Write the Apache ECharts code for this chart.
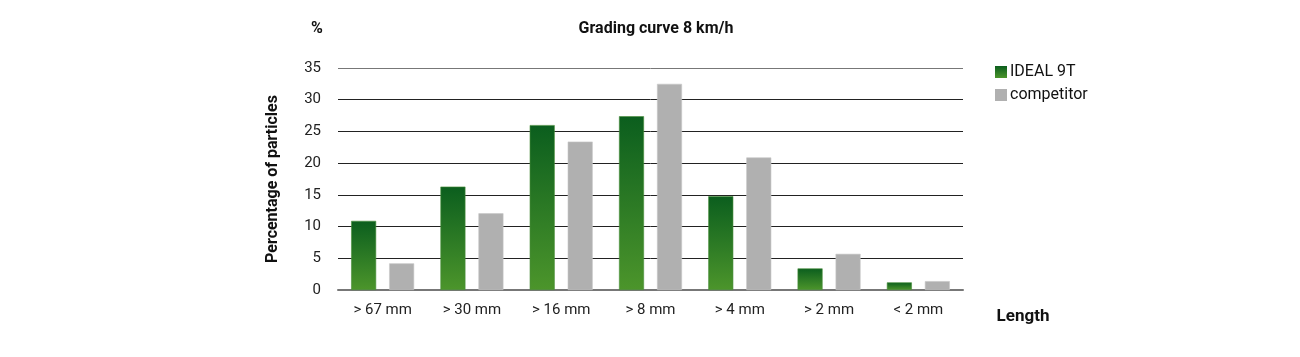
<!DOCTYPE html>
<html><head><meta charset="utf-8">
<script src="https://cdn.jsdelivr.net/npm/echarts@6/dist/echarts.min.js"></script>
<style>html,body{margin:0;padding:0;background:#fff}#c{width:1300px;height:357px}</style>
</head><body><div id="c"></div>
<script>
const categories = ['> 67 mm','> 30 mm','> 16 mm','> 8 mm','> 4 mm','> 2 mm','< 2 mm'];
const ideal9T = [10.9, 16.3, 26.0, 27.4, 14.8, 3.4, 1.2];
const competitor = [4.2, 12.1, 23.4, 32.5, 20.9, 5.7, 1.4];
const yTicks = [0, 35, 5];

const chart = echarts.init(document.getElementById('c'));
const F = 'Roboto, "DejaVu Sans", sans-serif';
chart.setOption({
  animation: false,
  textStyle: {fontFamily: F},
  title: [
    {text: 'Grading curve 8 km/h', left: 651, top: 16, textAlign: 'center',
     textStyle: {fontFamily: F, fontSize: 16, fontWeight: 'bold', color: '#111'}},
    {text: '%', left: 312, top: 16, textAlign: 'center',
     textStyle: {fontFamily: F, fontSize: 16, fontWeight: 'bold', color: '#111'}},
    {text: 'Length', left: 1018, top: 303, textAlign: 'center',
     textStyle: {fontFamily: F, fontSize: 17, fontWeight: 'bold', color: '#111'}}
  ],
  legend: {
    orient: 'vertical', left: 990, top: 59, itemWidth: 12, itemHeight: 12, itemGap: 7,
    icon: 'rect', itemStyle: {borderWidth: 0},
    textStyle: {fontFamily: F, fontSize: 16, color: '#111', padding: [0, 0, 0, -2]},
    data: ['IDEAL 9T', 'competitor']
  },
  grid: {left: 338, right: 337, top: 68, bottom: 67},
  xAxis: {
    type: 'category', data: categories,
    axisLine: {lineStyle: {color: '#777', width: 2}},
    axisTick: {show: false},
    axisLabel: {fontFamily: F, fontSize: 15, color: '#222', margin: 13}
  },
  yAxis: {
    type: 'value', min: yTicks[0], max: yTicks[1], interval: yTicks[2],
    name: 'Percentage of particles', nameLocation: 'middle', nameGap: 57, nameRotate: 90,
    nameTextStyle: {fontFamily: F, fontSize: 16, fontWeight: 'bold', color: '#111'},
    axisLine: {show: false}, axisTick: {show: false},
    axisLabel: {fontFamily: F, fontSize: 15, color: '#222', margin: 17},
    splitLine: {lineStyle: {color: ['#777','#222','#222','#222','#222','#222','#222','#777'], width: 1}}
  },
  series: [
    {name: 'IDEAL 9T', type: 'bar', data: ideal9T, barWidth: 25, barGap: '52%',
     itemStyle: {
       color: new echarts.graphic.LinearGradient(0, 0, 0, 1, [
         {offset: 0, color: '#0b5e1e'}, {offset: 1, color: '#4c952b'}]),
       borderColor: '#4a8f3a', borderWidth: 0.6
     }},
    {name: 'competitor', type: 'bar', data: competitor, barWidth: 25,
     itemStyle: {color: '#b0b0b0', borderColor: '#c8c8c8', borderWidth: 0.6}}
  ]
});
</script></body></html>
